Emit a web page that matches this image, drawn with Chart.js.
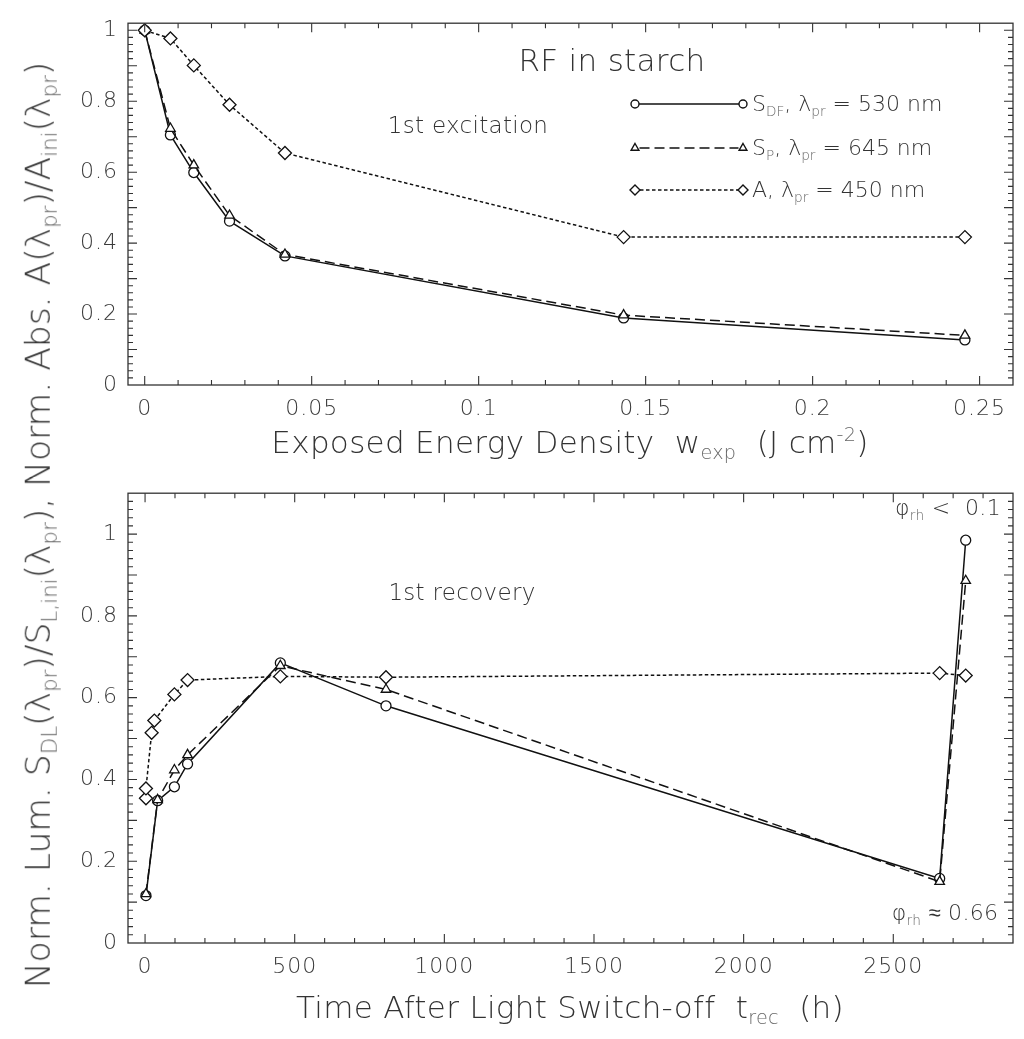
<!DOCTYPE html>
<html><head><meta charset="utf-8">
<script src="https://cdn.jsdelivr.net/npm/chart.js@4.4.1/dist/chart.umd.min.js"></script>
<style>
html,body{margin:0;padding:0;background:#fff;}
body{width:1024px;height:1039px;position:relative;overflow:hidden;font-family:"DejaVu Sans ExtraLight","DejaVu Sans Light","DejaVu Sans",sans-serif;font-weight:200;color:#333;}
canvas{position:absolute;left:0;}
#c1{top:0;}
#c2{top:470px;}
.t{position:absolute;white-space:nowrap;line-height:1;transform:translate(-50%,-50%);letter-spacing:0.3px;}
.l{position:absolute;white-space:nowrap;line-height:1;transform:translate(0,-50%);font-size:22px;letter-spacing:0px;}
sub,sup{font-size:62%;line-height:0;color:#666;}
sub{vertical-align:-0.35em;}
sup{vertical-align:0.6em;}
</style></head>
<body>
<canvas id="c1" width="1024" height="470"></canvas>
<canvas id="c2" width="1024" height="569"></canvas>

<div class="t" style="left:612px;top:60px;font-size:31px;">RF in starch</div>
<div class="t" style="left:468px;top:125px;font-size:23px;">1st excitation</div>
<div class="l" style="left:752px;top:104px;">S<sub>DF</sub>, λ<sub>pr</sub> = 530 nm</div>
<div class="l" style="left:752px;top:148px;">S<sub>P</sub>, λ<sub>pr</sub> = 645 nm</div>
<div class="l" style="left:752px;top:190px;">A, λ<sub>pr</sub> = 450 nm</div>
<div class="t" style="left:570px;top:442px;font-size:31px;">Exposed Energy Density&nbsp; w<sub>exp</sub>&nbsp; (J cm<sup>-2</sup>)</div>

<div class="t" style="left:462px;top:592px;font-size:23px;">1st recovery</div>
<div class="t" style="left:948px;top:508px;font-size:22px;">φ<sub>rh</sub> &lt;&nbsp; 0.1</div>
<div class="t" style="left:945px;top:913px;font-size:22px;">φ<sub>rh</sub> ≈ 0.66</div>
<div class="t" style="left:570px;top:1007px;font-size:31px;">Time After Light Switch-off&nbsp; t<sub>rec</sub>&nbsp; (h)</div>

<div class="t" style="left:38px;top:525px;font-size:34.5px;letter-spacing:0;transform:translate(-50%,-50%) rotate(-90deg);">Norm. Lum. S<sub>DL</sub>(λ<sub>pr</sub>)/S<sub>L,ini</sub>(λ<sub>pr</sub>), Norm. Abs. A(λ<sub>pr</sub>)/A<sub>ini</sub>(λ<sub>pr</sub>)</div>

<script>
// ---------- data: top panel (1st excitation) ----------
const topX   = [0, 0.0077, 0.0147, 0.0254, 0.042, 0.1434, 0.2456];
const topSDF = [1.0, 0.705, 0.599, 0.462, 0.364, 0.189, 0.127];
const topSP  = [1.0, 0.723, 0.620, 0.478, 0.368, 0.197, 0.140];
const topA   = [1.0, 0.977, 0.901, 0.790, 0.654, 0.417, 0.417];
const topXTicks = [0, 0.05, 0.1, 0.15, 0.2, 0.25];
const topYTicks = [0, 0.2, 0.4, 0.6, 0.8, 1];

// ---------- data: bottom panel (1st recovery) ----------
const botXS  = [3, 42, 98, 142, 452, 805, 2655, 2742];
const botSDF = [0.116, 0.348, 0.382, 0.438, 0.685, 0.580, 0.158, 0.985];
const botSP  = [0.120, 0.350, 0.423, 0.460, 0.678, 0.620, 0.150, 0.886];
const botXA  = [3, 3, 22, 31, 98, 142, 452, 805, 2655, 2742];
const botA   = [0.354, 0.378, 0.514, 0.544, 0.608, 0.643, 0.652, 0.650, 0.660, 0.654];
const botXTicks = [0, 500, 1000, 1500, 2000, 2500];
const botYTicks = [0, 0.2, 0.4, 0.6, 0.8, 1];

const FAM = '"DejaVu Sans ExtraLight","DejaVu Sans Light","DejaVu Sans",sans-serif';
const INK = '#111';
const TXT = '#3a3a3a';
const DASH_S = [];
const DASH_P = [10, 5];
const DASH_A = [3.5, 2.5];

function ds(label, xs, ys, style, r, dash){
  return {label, data: xs.map((x,i)=>({x, y: ys[i]})), borderColor: INK, borderWidth: 1.5,
    borderDash: dash, pointStyle: style, pointRadius: r, pointBorderWidth: 1.3,
    pointBackgroundColor: '#fff', pointBorderColor: INK, fill: false, tension: 0};
}

function mk(ctx, style, x, y, r){
  ctx.beginPath();
  if (style === 'circle') ctx.arc(x, y, r, 0, Math.PI*2);
  else if (style === 'triangle') { ctx.moveTo(x, y-r); ctx.lineTo(x+r*0.866, y+r*0.5); ctx.lineTo(x-r*0.866, y+r*0.5); ctx.closePath(); }
  else { ctx.moveTo(x, y-r); ctx.lineTo(x+r, y); ctx.lineTo(x, y+r); ctx.lineTo(x-r, y); ctx.closePath(); }
  ctx.fillStyle = '#fff'; ctx.fill(); ctx.stroke();
}

const frameTicks = {
  id: 'frameTicks',
  beforeDraw(chart){ chart.ctx.letterSpacing = '1px'; },
  afterDraw(chart, args, o){
    const {ctx, chartArea: a, scales: {x, y}} = chart;
    ctx.save();
    ctx.letterSpacing = '0px';
    ctx.strokeStyle = '#333'; ctx.lineWidth = 1.3; ctx.setLineDash([]);
    ctx.strokeRect(a.left, a.top, a.right - a.left, a.bottom - a.top);
    ctx.lineWidth = 1.1;
    ctx.beginPath();
    const xt = (v, len) => { const p = x.getPixelForValue(v); if (p <= a.left+1 || p >= a.right-1) return;
      ctx.moveTo(p, a.bottom); ctx.lineTo(p, a.bottom - len); ctx.moveTo(p, a.top); ctx.lineTo(p, a.top + len); };
    const yt = (v, len) => { const p = y.getPixelForValue(v); if (p <= a.top+1 || p >= a.bottom-1) return;
      ctx.moveTo(a.left, p); ctx.lineTo(a.left + len, p); ctx.moveTo(a.right, p); ctx.lineTo(a.right - len, p); };
    for (let v = o.x0; v <= o.x1 + 1e-9; v += o.xMinor) {
      const isMaj = Math.abs(v/o.xMajor - Math.round(v/o.xMajor)) < 1e-6;
      xt(v, isMaj ? 9 : 5);
    }
    for (let v = o.y0; v <= o.y1 + 1e-9; v += o.yMinor) {
      const isMaj = Math.abs(v/o.yMajor - Math.round(v/o.yMajor)) < 1e-6;
      yt(v, isMaj ? 9 : 5);
    }
    ctx.stroke();
    if (o.legend) {
      const L = o.legend;
      L.items.forEach((it, i) => {
        const yy = L.rows[i];
        ctx.strokeStyle = INK; ctx.lineWidth = 1.4;
        ctx.setLineDash(it.dash);
        ctx.beginPath(); ctx.moveTo(L.x0 + it.r, yy); ctx.lineTo(L.x1 - it.r, yy); ctx.stroke();
        ctx.setLineDash([]);
        mk(ctx, it.style, L.x0, yy, it.r); mk(ctx, it.style, L.x1, yy, it.r);
      });
    }
    ctx.restore();
  }
};

function axisCfg(min, max, ticks, fitProp, fitVal, pad){
  return {
    type: 'linear', min, max,
    grid: {display: false, drawTicks: false}, border: {display: false},
    ticks: {color: TXT, font: {family: FAM, size: 22, weight: 200}, padding: pad, maxRotation: 0, autoSkip: false,
            callback: v => String(v)},
    afterBuildTicks: s => { s.ticks = ticks.map(v => ({value: v})); },
    afterFit: s => { s[fitProp] = fitVal; }
  };
}

new Chart(document.getElementById('c1'), {
  type: 'line',
  data: {datasets: [
    ds('A, 450 nm', topX, topA, 'rectRot', 6.5, DASH_A),
    ds('SP, 645 nm', topX, topSP, 'triangle', 5.5, DASH_P),
    ds('SDF, 530 nm', topX, topSDF, 'circle', 5, DASH_S)
  ]},
  options: {
    responsive: false, animation: false, events: [],
    layout: {padding: {top: 13, right: 11, left: 0, bottom: 0}},
    plugins: {legend: {display: false}, tooltip: {enabled: false},
      frameTicks: {x0: 0, x1: 0.26, xMinor: 0.01, xMajor: 0.05, y0: 0, y1: 1.02, yMinor: 0.02, yMajor: 0.1,
        legend: {x0: 635, x1: 743, rows: [104, 148, 190], items: [
          {style: 'circle', r: 4, dash: DASH_S},
          {style: 'triangle', r: 4.5, dash: DASH_P},
          {style: 'diamond', r: 5, dash: DASH_A}]}}},
    scales: {
      x: axisCfg(-0.005, 0.26, topXTicks, 'height', 85, 11),
      y: axisCfg(0, 1.02, topYTicks, 'width', 128, 10)
    }
  },
  plugins: [frameTicks]
});

new Chart(document.getElementById('c2'), {
  type: 'line',
  data: {datasets: [
    ds('A', botXA, botA, 'rectRot', 6.5, DASH_A),
    ds('SP', botXS, botSP, 'triangle', 5.5, DASH_P),
    ds('SDF', botXS, botSDF, 'circle', 5, DASH_S)
  ]},
  options: {
    responsive: false, animation: false, events: [],
    layout: {padding: {top: 16, right: 11, left: 0, bottom: 0}},
    plugins: {legend: {display: false}, tooltip: {enabled: false},
      frameTicks: {x0: 0, x1: 2900, xMinor: 100, xMajor: 500, y0: 0, y1: 1.1, yMinor: 0.02, yMajor: 0.1}},
    scales: {
      x: axisCfg(-57, 2900, botXTicks, 'height', 96, 11),
      y: axisCfg(0, 1.1, botYTicks, 'width', 128, 10)
    }
  },
  plugins: [frameTicks]
});
</script>
</body></html>
